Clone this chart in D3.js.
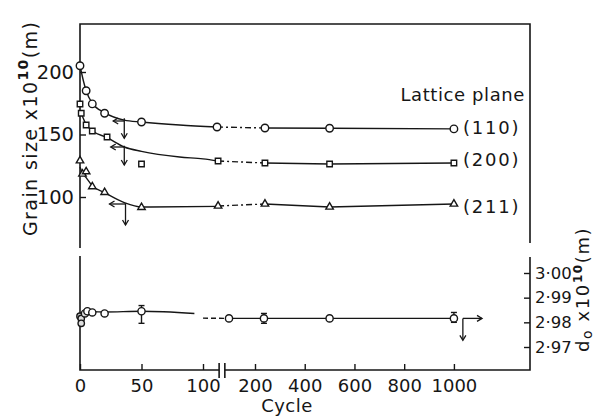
<!DOCTYPE html>
<html><head><meta charset="utf-8">
<script src="https://cdn.jsdelivr.net/npm/d3@7"></script>
<style>
body{margin:0;background:#fff;}
svg{display:block;font-family:"DejaVu Sans",sans-serif;}
</style></head><body>
<svg id="c" width="599" height="416"></svg>
<script>
// ---------- data ----------
const xTickValues = [0, 50, 100, 200, 400, 600, 800, 1000];
const yTopTicks = [100, 150, 200];
const yBotTicks = [2.97, 2.98, 2.99, 3.00];
const planeLabels = ["(110)", "(200)", "(211)"];
const planeLabelValues = [155.5, 130, 92.5];

// measured points (grain size x10^10 m)
const cycles110 = [0, 5, 10, 20, 50, 127, 240, 500, 1000];
const size110   = [205, 185, 174.5, 167, 160, 156, 155.2, 155, 154.5];
const cycles200 = [0, 1, 5, 10, 22, 50, 129, 240, 500, 1000];
const size200   = [174.4, 167, 157.6, 152.8, 148, 126.4, 128.8, 127.2, 126.4, 127.2];
const cycles211 = [0, 2, 5, 10, 20, 50, 129, 240, 500, 1000];
const size211   = [129, 118.4, 120.3, 108.3, 103.7, 91.7, 92.8, 94.4, 92, 94.4];

// fitted curves (before the break)
const fit110Cycles = [0, 3, 5, 10, 20, 36, 50, 81, 127];
const fit110Values = [205, 192, 185, 175, 167.5, 161.5, 160, 157.6, 156];
const fit200Cycles = [1, 5, 10, 22, 36, 50, 81, 100, 129];
const fit200Values = [167, 158, 153, 147.5, 140, 136.5, 132, 130.5, 128.8];
const fit211Cycles = [0, 2, 5, 10, 20, 36, 50, 129];
const fit211Values = [124, 119, 115.5, 109, 103.5, 95.5, 92, 92.5];

// lattice parameter d0 (x10^10 m)
const cyclesD0 = [0, 1, 1, 4, 6, 10, 20, 50, 150, 236, 500, 1000];
const valuesD0 = [2.9825, 2.9816, 2.9796, 2.9836, 2.9845, 2.9840, 2.9836, 2.9845, 2.9816, 2.9816, 2.9816, 2.9816];
const errCyclesD0 = [50, 236, 1000];
const errLowD0  = [2.9796, 2.9796, 2.9800];
const errHighD0 = [2.9868, 2.9836, 2.9840];
const fitD0Cycles = [0, 3, 6, 10, 20, 50, 93];
const fitD0Values = [2.9818, 2.9835, 2.9843, 2.9843, 2.9842, 2.9845, 2.9836];
const dashD0Cycles = [100, 148];
const dashD0Values = [2.9817, 2.9816];

// axis break (cycles)
const breakCycles = [131, 142];

// ---------- drawing ----------
const svg = d3.select("#c");
const ink = "#161616";
const x = d3.scaleLinear().domain([0, 100, 200, 1306]).range([80, 203, 255, 530]);
const yTop = d3.scaleLinear().domain([100, 200]).range([197, 72]);
const yBot = d3.scaleLinear().domain([2.97, 3.00]).range([347, 273]);

const L = 80, R = 530, TOP = 24, UPB = 248, LOWT = 256, AX = 370;

// frames
const frame = svg.append("g").attr("stroke", ink).attr("stroke-width", 1.6).attr("fill", "none");
frame.append("path").attr("d", `M${L},${UPB}V${TOP}H${R}V${UPB - 5}`);
frame.append("path").attr("d", `M${L},${LOWT}V${AX}H${x(breakCycles[0])}`);
frame.append("path").attr("d", `M${x(breakCycles[1])},${AX}H${R}V${LOWT + 1}`);
breakCycles.forEach(c => frame.append("line")
  .attr("x1", x(c)).attr("x2", x(c)).attr("y1", AX - 7).attr("y2", AX + 8));

// axes
function styleAxis(g) {
  g.select(".domain").remove();
  g.selectAll(".tick line").attr("stroke", ink).attr("stroke-width", 1.4);
  g.selectAll(".tick text").attr("fill", ink).attr("font-family", "DejaVu Sans");
}
svg.append("g").attr("transform", `translate(0,${AX})`)
  .call(d3.axisBottom(x).tickValues(xTickValues).tickSize(-6).tickPadding(9).tickFormat(d3.format("d")))
  .call(styleAxis).selectAll("text").attr("font-size", 18);
svg.append("g").attr("transform", `translate(${L},0)`)
  .call(d3.axisLeft(yTop).tickValues(yTopTicks).tickSize(-6).tickPadding(6).tickFormat(d3.format("d")))
  .call(styleAxis).selectAll("text").attr("font-size", 19.5);
svg.append("g").attr("transform", `translate(${R},0)`)
  .call(d3.axisRight(yBot).tickValues(yBotTicks).tickSize(-6).tickPadding(5)
    .tickFormat(d => d.toFixed(2).replace(".", "·")))
  .call(styleAxis).selectAll("text").attr("font-size", 16.5);

// line helpers
const zip = (a, b) => a.map((v, i) => [v, b[i]]);
const curveTop = d3.line().x(d => x(d[0])).y(d => yTop(d[1])).curve(d3.curveMonotoneX);
const linTop = d3.line().x(d => x(d[0])).y(d => yTop(d[1]));
const curveBot = d3.line().x(d => x(d[0])).y(d => yBot(d[1])).curve(d3.curveMonotoneX);
const linBot = d3.line().x(d => x(d[0])).y(d => yBot(d[1]));
const lines = svg.append("g").attr("fill", "none").attr("stroke", ink).attr("stroke-width", 1.4);

const series = [
  {c: cycles110, v: size110, fc: fit110Cycles, fv: fit110Values, m: "circle"},
  {c: cycles200, v: size200, fc: fit200Cycles, fv: fit200Values, m: "square"},
  {c: cycles211, v: size211, fc: fit211Cycles, fv: fit211Values, m: "triangle"}
];
series.forEach(s => {
  lines.append("path").attr("d", curveTop(zip(s.fc, s.fv)));
  const n = s.c.length;
  // dash-dot across the break
  lines.append("path").attr("d", linTop(zip(s.c.slice(n - 4, n - 2), s.v.slice(n - 4, n - 2))))
    .attr("stroke-dasharray", "6,3,2,3");
  lines.append("path").attr("d", linTop(zip(s.c.slice(n - 3), s.v.slice(n - 3))));
});

// markers
const mk = svg.append("g").attr("fill", "#fff").attr("stroke", ink).attr("stroke-width", 1.4);
const sym = {circle: d3.symbolCircle, square: d3.symbolSquare, triangle: d3.symbolTriangle};
const symSize = {circle: 44, square: 30, triangle: 24};
series.forEach(s => {
  zip(s.c, s.v).forEach(d => mk.append("path")
    .attr("d", d3.symbol().type(sym[s.m]).size(symSize[s.m])())
    .attr("transform", `translate(${x(d[0])},${yTop(d[1])})`));
});

// lower panel lines
lines.append("path").attr("d", curveBot(zip(fitD0Cycles, fitD0Values)));
lines.append("path").attr("d", linBot(zip(dashD0Cycles, dashD0Values))).attr("stroke-dasharray", "5,3");
lines.append("path").attr("d", linBot(zip(cyclesD0.slice(8), valuesD0.slice(8))));
errCyclesD0.forEach((c, i) => {
  const g = lines.append("g");
  g.append("line").attr("x1", x(c)).attr("x2", x(c)).attr("y1", yBot(errLowD0[i])).attr("y2", yBot(errHighD0[i]));
  [errLowD0[i], errHighD0[i]].forEach(v => g.append("line")
    .attr("x1", x(c) - 3).attr("x2", x(c) + 3).attr("y1", yBot(v)).attr("y2", yBot(v)));
});
zip(cyclesD0, valuesD0).forEach((d, i) => mk.append("circle")
  .attr("cx", x(d[0])).attr("cy", yBot(d[1])).attr("r", i < 3 ? 3.2 : 3.6)
  .attr("fill", i < 4 ? "#ddd" : "#fff"));

// axis-reference arrows
const arrowTop = [ // [fromCycle, toCycle, value, downFrom, downTo]
  [36, 27, 160.8, 163, 147],
  [36, 25, 140, 141, 125.6],
  [37, 24, 94.4, 95, 77.6]
];
function head(g, px, py, dx, dy) {
  const nx = -dy, ny = dx, s = 5;
  g.append("path").attr("d",
    `M${px - dx * s + nx * 3},${py - dy * s + ny * 3}L${px},${py}L${px - dx * s - nx * 3},${py - dy * s - ny * 3}`);
}
const ar = svg.append("g").attr("fill", "none").attr("stroke", ink).attr("stroke-width", 1.3);
arrowTop.forEach(a => {
  ar.append("line").attr("x1", x(a[0])).attr("x2", x(a[1])).attr("y1", yTop(a[2])).attr("y2", yTop(a[2]));
  head(ar, x(a[1]), yTop(a[2]), -1, 0);
  ar.append("line").attr("x1", x(a[0])).attr("x2", x(a[0])).attr("y1", yTop(a[3])).attr("y2", yTop(a[4]));
  head(ar, x(a[0]), yTop(a[4]), 0, 1);
});
const arrowBot = [1036, 1113, 2.9816, 2.9727];
ar.append("line").attr("x1", x(arrowBot[0])).attr("x2", x(arrowBot[1])).attr("y1", yBot(arrowBot[2])).attr("y2", yBot(arrowBot[2]));
head(ar, x(arrowBot[1]), yBot(arrowBot[2]), 1, 0);
ar.append("line").attr("x1", x(arrowBot[0])).attr("x2", x(arrowBot[0])).attr("y1", yBot(arrowBot[2])).attr("y2", yBot(arrowBot[3]));
head(ar, x(arrowBot[0]), yBot(arrowBot[3]), 0, 1);

// texts
const txt = svg.append("g").attr("fill", ink);
txt.append("text").attr("x", 525).attr("y", 101).attr("text-anchor", "end")
  .attr("font-size", 18).attr("letter-spacing", 0.6).text("Lattice plane");
planeLabels.forEach((t, i) => txt.append("text").attr("x", 463).attr("y", yTop(planeLabelValues[i]))
  .attr("dy", "0.36em").attr("font-size", 18).attr("letter-spacing", 1.8).text(t));
txt.append("text").attr("x", 287).attr("y", 412).attr("text-anchor", "middle")
  .attr("font-size", 18).attr("letter-spacing", 0.5).text("Cycle");

const yl = txt.append("text").attr("transform", "translate(37,236) rotate(-90)")
  .attr("font-size", 19).attr("letter-spacing", 1.4);
yl.append("tspan").text("Grain size  x10");
yl.append("tspan").attr("dy", -9).attr("font-size", 14).attr("font-weight", "bold").text("10");
yl.append("tspan").attr("dy", 9).text("(m)");

const yr = txt.append("text").attr("transform", "translate(589,352) rotate(-90)")
  .attr("font-size", 18).attr("letter-spacing", 1.6);
yr.append("tspan").text("d");
yr.append("tspan").attr("dy", 3).attr("font-size", 14).text("o");
yr.append("tspan").attr("dy", -3).text(" x10");
yr.append("tspan").attr("dy", -7).attr("font-size", 12).attr("font-weight", "bold").text("10");
yr.append("tspan").attr("dy", 7).text("(m)");
</script>
</body></html>
